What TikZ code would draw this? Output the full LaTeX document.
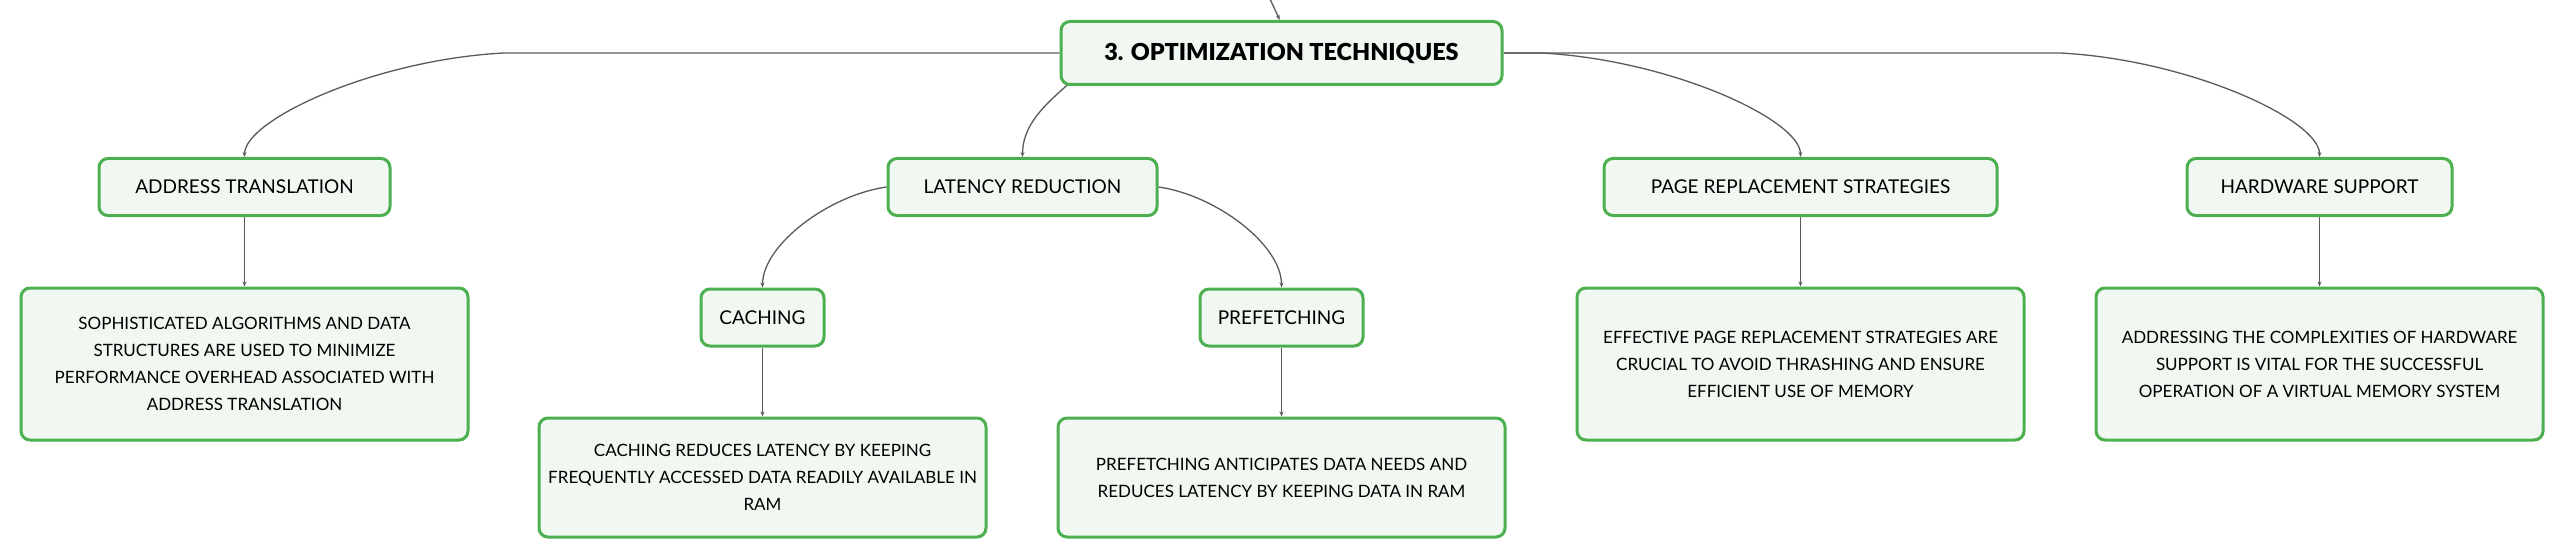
\documentclass[tikz,border=0pt]{standalone}
\usepackage{fontspec}
\setmainfont{Lato}
\newfontfamily\rootfont{Lato Black}
\usetikzlibrary{calc,arrows.meta}
\definecolor{boxgreen}{HTML}{4CAF50}
\definecolor{boxfill}{HTML}{F1F8F2}
\definecolor{linegray}{HTML}{5A5A5A}
\pgfdeclarelayer{background}
\pgfsetlayers{background,main}
\begin{document}
\begin{tikzpicture}[x=1pt,y=-1pt,
  box/.style={draw=boxgreen, line width=3pt, fill=boxfill, rounded corners=9pt,
    align=center, inner sep=0pt, text=black},
  rootbox/.style={box, font=\rootfont\fontsize{23.4}{28}\selectfont, minimum width=441pt, minimum height=63pt},
  lbl/.style={box, font=\fontsize{19}{23}\selectfont, minimum height=57pt},
  desc/.style={box, font=\fontsize{17}{27}\selectfont, minimum width=447pt},
  conn/.style={draw=linegray, line width=1.3pt, -{Stealth[length=5pt,width=4pt]}}
]
\useasboundingbox (0,0) rectangle (2565,559);

% nodes
\node[rootbox] (root) at (1281.5,53) {3. OPTIMIZATION TECHNIQUES};

\node[lbl, minimum width=291pt] (addr) at (244.5,187) {ADDRESS TRANSLATION};
\node[desc, minimum height=152pt] (addrdesc) at (244.5,364)
  {SOPHISTICATED ALGORITHMS AND DATA\\STRUCTURES ARE USED TO MINIMIZE\\PERFORMANCE OVERHEAD ASSOCIATED WITH\\ADDRESS TRANSLATION};

\node[lbl, minimum width=269pt] (lr) at (1022.5,187) {LATENCY REDUCTION};
\node[lbl, minimum width=123pt] (caching) at (762.5,317.5) {CACHING};
\node[lbl, minimum width=163pt] (prefetch) at (1281.5,317.5) {PREFETCHING};
\node[desc, minimum height=119pt] (cachedesc) at (762.5,477.5)
  {CACHING REDUCES LATENCY BY KEEPING\\FREQUENTLY ACCESSED DATA READILY AVAILABLE IN\\RAM};
\node[desc, minimum height=119pt] (predesc) at (1281.5,477.5)
  {PREFETCHING ANTICIPATES DATA NEEDS AND\\REDUCES LATENCY BY KEEPING DATA IN RAM};

\node[lbl, minimum width=393pt] (pr) at (1800.5,187) {PAGE REPLACEMENT STRATEGIES};
\node[desc, minimum height=152pt] (prdesc) at (1800.5,364)
  {EFFECTIVE PAGE REPLACEMENT STRATEGIES ARE\\CRUCIAL TO AVOID THRASHING AND ENSURE\\EFFICIENT USE OF MEMORY};

\node[lbl, minimum width=265pt] (hw) at (2319.5,187) {HARDWARE SUPPORT};
\node[desc, minimum height=152pt] (hwdesc) at (2319.5,364)
  {ADDRESSING THE COMPLEXITIES OF HARDWARE\\SUPPORT IS VITAL FOR THE SUCCESSFUL\\OPERATION OF A VIRTUAL MEMORY SYSTEM};

\coordinate (parent) at (1270,-1);

% connectors
\begin{pgfonlayer}{background}
\draw[conn] (parent) .. controls (1275,8) .. ($(root.north)+(-2,0)$);

\draw[conn] (root.west) -- ($(addr.north)+(259,-104)$)
  .. controls ($(addr.north)+(129,-97)$) and ($(addr.north)+(0,-37)$) .. (addr.north);
\draw[conn] (root.east) -- ($(pr.north)+(-259,-104)$)
  .. controls ($(pr.north)+(-129,-97)$) and ($(pr.north)+(0,-37)$) .. (pr.north);
\draw[conn] (root.east) -- ($(hw.north)+(-259,-104)$)
  .. controls ($(hw.north)+(-129,-97)$) and ($(hw.north)+(0,-37)$) .. (hw.north);
\draw[conn] ($(root.south west)+(9,-2)$)
  .. controls ($(lr.north)+(22,-52)$) and ($(lr.north)+(0,-32)$) .. (lr.north);

\draw[conn] (lr.west) .. controls ($(lr.west)+(-57,8)$) and ($(caching.north)+(0,-43)$) .. (caching.north);
\draw[conn] (lr.east) .. controls ($(lr.east)+(57,8)$) and ($(prefetch.north)+(0,-43)$) .. (prefetch.north);

\draw[conn] (addr) -- (addrdesc);
\draw[conn] (caching) -- (cachedesc);
\draw[conn] (prefetch) -- (predesc);
\draw[conn] (pr) -- (prdesc);
\draw[conn] (hw) -- (hwdesc);
\end{pgfonlayer}
\end{tikzpicture}
\end{document}
